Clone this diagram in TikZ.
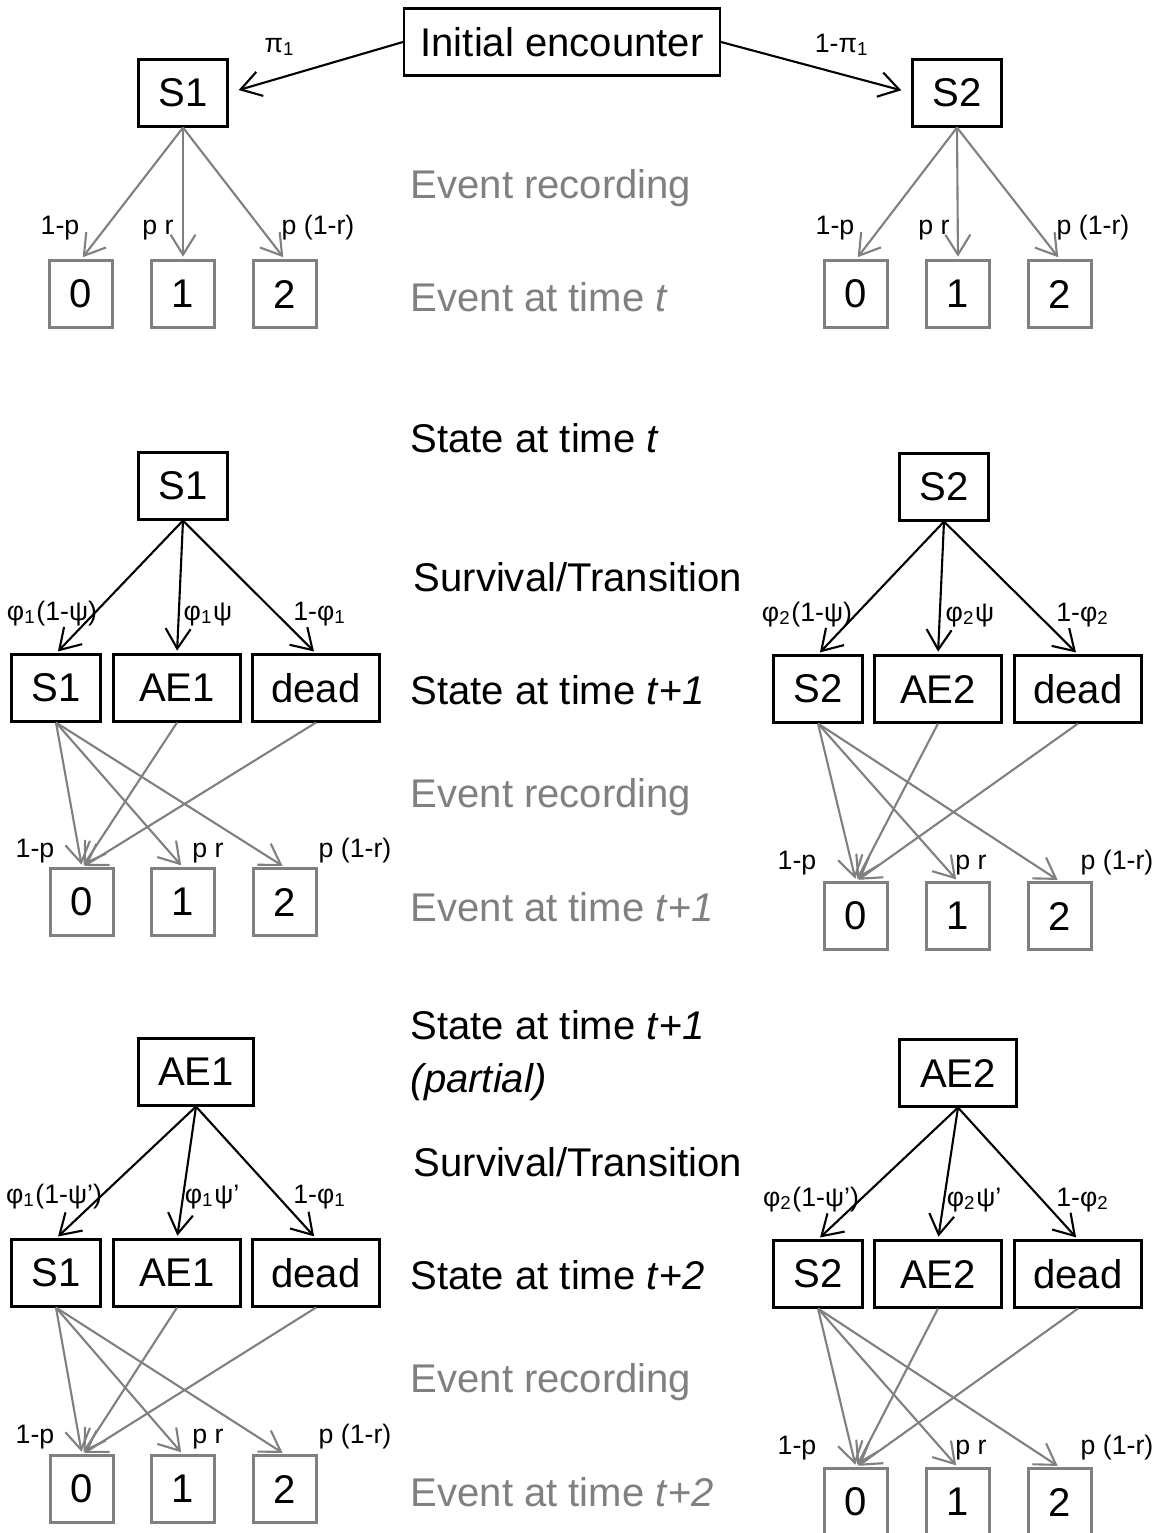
\documentclass[tikz,border=0pt]{standalone}
\usepackage{fontspec}
\setmainfont{Liberation Sans}
\usetikzlibrary{arrows.meta}
\definecolor{recgray}{RGB}{128,128,128}
\newcommand{\bigtxt}{\fontsize{11.4}{13.5}\selectfont}
\newcommand{\smalltxt}{\fontsize{7.6}{9}\selectfont}
\tikzset{
  state/.style={draw, line width=0.6pt, inner sep=0pt, minimum width=0.89cm, minimum height=0.67cm, font=\bigtxt},
  wide/.style={state, minimum width=1.27cm},
  obs/.style={draw=recgray, line width=0.6pt, inner sep=0pt, minimum width=0.63cm, minimum height=0.67cm, font=\bigtxt},
  prob/.style={font=\smalltxt, inner sep=0pt, anchor=base},
  caption/.style={font=\bigtxt, inner sep=0pt, anchor=base west},
  trans/.style={-{Straight Barb[length=2.0mm,width=2.5mm]}, line width=0.6pt, shorten >=0.8pt},
  rec/.style={trans, draw=recgray}
}
\begin{document}
\begin{tikzpicture}[x=0.1mm,y=-0.1mm]
\useasboundingbox (0,0) rectangle (1158,1533);
\clip (0,0) rectangle (1158,1533);

% initial encounter
\node[state, minimum width=3.16cm] (init) at (562,42) {Initial encounter};
\node[state] (s1a) at (183,93) {S1};
\node[state] (s2a) at (957,93) {S2};
\draw[trans, shorten >=3pt] (init.west) -- (s1a.east);
\draw[trans, shorten >=3pt] (init.east) -- (s2a.west);
\node[prob] (pi1) at (280,52) {π\textsubscript{1}};
\node[prob] (pi2) at (842,52) {1-π\textsubscript{1}};

\node[obs] (a0) at (81,294) {0};
\node[obs] (a1) at (183,294) {1};
\node[obs] (a2) at (285,294) {2};
\node[obs] (b0) at (856,294) {0};
\node[obs] (b1) at (958,294) {1};
\node[obs] (b2) at (1060,294) {2};
\foreach \e in {a0,a1,a2} \draw[rec] (s1a.south) -- (\e.north);
\foreach \e in {b0,b1,b2} \draw[rec] (s2a.south) -- (\e.north);
\node[prob] at (60,234) {1-p};
\node[prob] at (158,234) {p r};
\node[prob] at (318,234) {p (1-r)};
\node[prob] at (835,234) {1-p};
\node[prob] at (934,234) {p r};
\node[prob] at (1093,234) {p (1-r)};

\node[caption, text=recgray] at (410,198) {Event recording};
\node[caption, text=recgray] at (410,311) {Event at time \textit{t}};

% state at time t
\node[caption] at (410,452) {State at time \textit{t}};
\node[caption] at (413,591) {Survival/Transition};
\node[caption] at (410,704) {State at time \textit{t}+\textit{1}};
\node[caption, text=recgray] at (410,807) {Event recording};
\node[caption, text=recgray] at (410,921) {Event at time \textit{t}+\textit{1}};

\node[state] (s1b) at (183,486) {S1};
\node[state] (s1c) at (56,688) {S1};
\node[wide] (ae1c) at (177,688) {AE1};
\node[wide] (d1c) at (316,688) {dead};
\foreach \e in {s1c,ae1c,d1c} \draw[trans] (s1b.south) -- (\e.north);
\node[prob] at (52,620) {φ\textsubscript{1}(1-ψ)};
\node[prob] at (208,620) {φ\textsubscript{1}ψ};
\node[prob] at (320,620) {1-φ\textsubscript{1}};

\node[obs] (c0) at (82,902) {0};
\node[obs] (c1) at (183,902) {1};
\node[obs] (c2) at (285,902) {2};
\foreach \e in {c0,c1,c2} \draw[rec] (s1c.south) -- (\e.north);
\draw[rec] (ae1c.south) -- (c0.north);
\draw[rec] (d1c.south) -- (c0.north);
\node[prob] at (35,857) {1-p};
\node[prob] at (208,857) {p r};
\node[prob] at (355,857) {p (1-r)};

\node[state] (s2b) at (944,487) {S2};
\node[state] (s2c) at (818,689) {S2};
\node[wide] (ae2c) at (938,689) {AE2};
\node[wide] (d2c) at (1078,689) {dead};
\foreach \e in {s2c,ae2c,d2c} \draw[trans] (s2b.south) -- (\e.north);
\node[prob] at (807,621) {φ\textsubscript{2}(1-ψ)};
\node[prob] at (970,621) {φ\textsubscript{2}ψ};
\node[prob] at (1083,621) {1-φ\textsubscript{2}};

\node[obs] (d0) at (856,916) {0};
\node[obs] (d1) at (958,916) {1};
\node[obs] (d2) at (1060,916) {2};
\foreach \e in {d0,d1,d2} \draw[rec] (s2c.south) -- (\e.north);
\draw[rec] (ae2c.south) -- (d0.north);
\draw[rec] (d2c.south) -- (d0.north);
\node[prob] at (797,869) {1-p};
\node[prob] at (971,869) {p r};
\node[prob] at (1117,869) {p (1-r)};

% state at time t+1 (partial)
\node[caption] at (410,1039) {State at time \textit{t}+\textit{1}};
\node[caption] at (410,1092) {\textit{(partial)}};
\node[caption] at (413,1176) {Survival/Transition};
\node[caption] at (410,1289) {State at time \textit{t}+\textit{2}};
\node[caption, text=recgray] at (410,1392) {Event recording};
\node[caption, text=recgray] at (410,1506) {Event at time \textit{t}+\textit{2}};

\node[state, minimum width=1.15cm] (ae1e) at (196,1072) {AE1};
\node[state] (s1f) at (56,1273) {S1};
\node[wide] (ae1f) at (177,1273) {AE1};
\node[wide] (d1f) at (316,1273) {dead};
\foreach \e in {s1f,ae1f,d1f} \draw[trans] (ae1e.south) -- (\e.north);
\node[prob] at (54,1203) {φ\textsubscript{1}(1-ψ’)};
\node[prob] at (212,1203) {φ\textsubscript{1}ψ’};
\node[prob] at (320,1203) {1-φ\textsubscript{1}};

\node[obs] (e0) at (82,1489) {0};
\node[obs] (e1) at (183,1489) {1};
\node[obs] (e2) at (285,1489) {2};
\foreach \e in {e0,e1,e2} \draw[rec] (s1f.south) -- (\e.north);
\draw[rec] (ae1f.south) -- (e0.north);
\draw[rec] (d1f.south) -- (e0.north);
\node[prob] at (35,1443) {1-p};
\node[prob] at (208,1443) {p r};
\node[prob] at (355,1443) {p (1-r)};

\node[state, minimum width=1.17cm] (ae2e) at (958,1073) {AE2};
\node[state] (s2f) at (818,1274) {S2};
\node[wide] (ae2f) at (938,1274) {AE2};
\node[wide] (d2f) at (1078,1274) {dead};
\foreach \e in {s2f,ae2f,d2f} \draw[trans] (ae2e.south) -- (\e.north);
\node[prob] at (811,1206) {φ\textsubscript{2}(1-ψ’)};
\node[prob] at (974,1206) {φ\textsubscript{2}ψ’};
\node[prob] at (1083,1206) {1-φ\textsubscript{2}};

\node[obs] (f0) at (856,1502) {0};
\node[obs] (f1) at (958,1502) {1};
\node[obs] (f2) at (1060,1502) {2};
\foreach \e in {f0,f1,f2} \draw[rec] (s2f.south) -- (\e.north);
\draw[rec] (ae2f.south) -- (f0.north);
\draw[rec] (d2f.south) -- (f0.north);
\node[prob] at (797,1454) {1-p};
\node[prob] at (971,1454) {p r};
\node[prob] at (1117,1454) {p (1-r)};
\end{tikzpicture}
\end{document}
